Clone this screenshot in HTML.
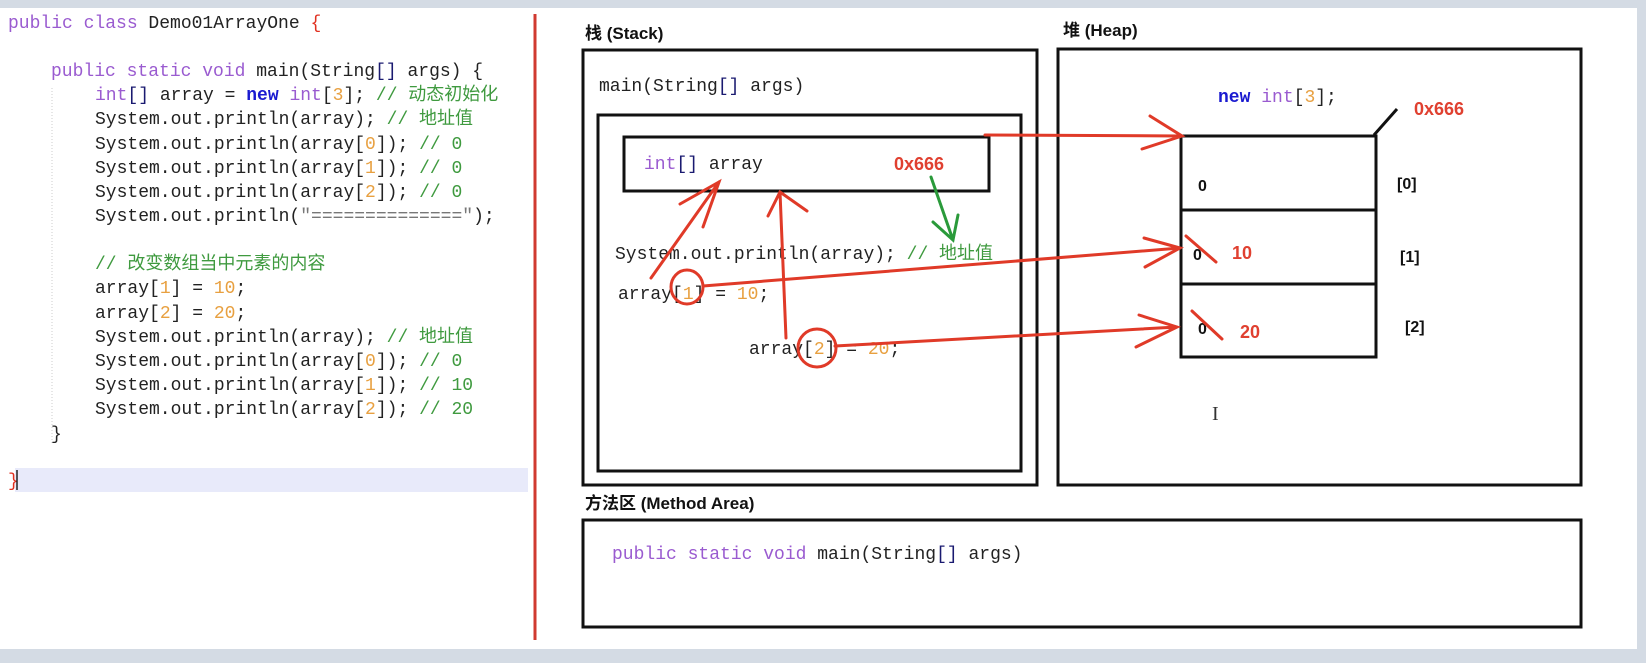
<!DOCTYPE html>
<html><head><meta charset="utf-8"><style>
html,body{margin:0;padding:0;background:#fff;}
svg{display:block}
.m{font-family:"Liberation Mono","Noto Sans CJK SC",monospace;font-size:18px;fill:#222}
.k{fill:#9a5bd0}.n{fill:#1a1ad0;font-weight:bold}.c{fill:#3f9a3f}.o{fill:#e8a040}.b{fill:#1a1a70}
.h{font-family:"Liberation Sans","Noto Sans CJK SC",sans-serif;font-weight:bold;font-size:17px;fill:#111}
.r{font-family:"Liberation Sans",sans-serif;font-weight:bold;font-size:18px;fill:#e04030}
</style></head><body>
<svg width="1646" height="663" viewBox="0 0 1646 663" xmlns="http://www.w3.org/2000/svg">
<rect x="0" y="0" width="1646" height="663" fill="#d4dbe4"/>
<rect x="0" y="8" width="1637" height="641" fill="#fff"/>
<rect x="15" y="468" width="513" height="24" fill="#e8eafa"/>
<line x1="52" y1="88" x2="52" y2="445" stroke="#ccc" stroke-dasharray="1,2"/>
<line x1="535" y1="14" x2="535" y2="640" stroke="#d03a30" stroke-width="3"/>
<g class="m">
<text x="8" y="28"><tspan class="k">public class</tspan> Demo01ArrayOne <tspan fill="#e03020">{</tspan></text>
<text x="51" y="76"><tspan class="k">public static void</tspan> main(String<tspan class="b">[]</tspan> args) {</text>
<text x="95" y="100"><tspan class="k">int</tspan><tspan class="b">[]</tspan> array = <tspan class="n">new</tspan> <tspan class="k">int</tspan>[<tspan class="o">3</tspan>]; <tspan class="c">// 动态初始化</tspan></text>
<text x="95" y="124">System.out.println(array); <tspan class="c">// 地址值</tspan></text>
<text x="95" y="149">System.out.println(array[<tspan class="o">0</tspan>]); <tspan class="c">// 0</tspan></text>
<text x="95" y="173">System.out.println(array[<tspan class="o">1</tspan>]); <tspan class="c">// 0</tspan></text>
<text x="95" y="197">System.out.println(array[<tspan class="o">2</tspan>]); <tspan class="c">// 0</tspan></text>
<text x="95" y="221">System.out.println(<tspan fill="#777">"=============="</tspan>);</text>
<text x="95" y="269" class="c">// 改变数组当中元素的内容</text>
<text x="95" y="293">array[<tspan class="o">1</tspan>] = <tspan class="o">10</tspan>;</text>
<text x="95" y="318">array[<tspan class="o">2</tspan>] = <tspan class="o">20</tspan>;</text>
<text x="95" y="342">System.out.println(array); <tspan class="c">// 地址值</tspan></text>
<text x="95" y="366">System.out.println(array[<tspan class="o">0</tspan>]); <tspan class="c">// 0</tspan></text>
<text x="95" y="390">System.out.println(array[<tspan class="o">1</tspan>]); <tspan class="c">// 10</tspan></text>
<text x="95" y="414">System.out.println(array[<tspan class="o">2</tspan>]); <tspan class="c">// 20</tspan></text>
<text x="51" y="439">}</text>
<text x="8" y="486" fill="#e03020">}</text>
</g>
<line x1="17" y1="470" x2="17" y2="490" stroke="#222" stroke-width="1.5"/>

<text class="h" x="585" y="39">栈 (Stack)</text>
<text class="h" x="1063" y="36">堆 (Heap)</text>
<text class="h" x="585" y="509">方法区 (Method Area)</text>

<g fill="none" stroke="#111" stroke-width="3">
<rect x="583" y="50" width="454" height="435"/>
<rect x="598" y="115" width="423" height="356"/>
<rect x="624" y="137" width="365" height="54"/>
<rect x="1058" y="49" width="523" height="436"/>
<rect x="583" y="520" width="998" height="107"/>
<rect x="1181" y="136" width="195" height="221"/>
<line x1="1181" y1="210" x2="1376" y2="210"/>
<line x1="1181" y1="284" x2="1376" y2="284"/>
<line x1="1374" y1="135" x2="1397" y2="109"/>
</g>

<g class="m">
<text x="599" y="91">main(String<tspan class="b">[]</tspan> args)</text>
<text x="644" y="169"><tspan class="k">int</tspan><tspan class="b">[]</tspan> array</text>
<text x="615" y="259">System.out.println(array); <tspan class="c">// 地址值</tspan></text>
<text x="618" y="299">array[<tspan class="o">1</tspan>] = <tspan class="o">10</tspan>;</text>
<text x="749" y="354">array[<tspan class="o">2</tspan>] = <tspan class="o">20</tspan>;</text>
<text x="1218" y="102"><tspan class="n">new</tspan> <tspan class="k">int</tspan>[<tspan class="o">3</tspan>];</text>
<text x="612" y="559"><tspan class="k">public static void</tspan> main(String<tspan class="b">[]</tspan> args)</text>
</g>

<text class="r" x="894" y="170">0x666</text>
<text class="r" x="1414" y="115">0x666</text>
<text class="r" x="1232" y="259">10</text>
<text class="r" x="1240" y="338">20</text>
<g font-family="Liberation Sans,sans-serif" font-weight="bold" font-size="16" fill="#111">
<text x="1198" y="191">0</text><text x="1193" y="260">0</text><text x="1198" y="334">0</text>
<text x="1397" y="189">[0]</text><text x="1400" y="262">[1]</text><text x="1405" y="332">[2]</text>
</g>
<text x="1212" y="420" font-family="Liberation Serif,serif" font-size="20" fill="#333">I</text>

<g fill="none" stroke="#2a9a3a" stroke-width="3" stroke-linecap="round">
<path d="M931 177 L953 240 M933 222 L953 240 L958 215"/>
</g>
<g fill="none" stroke="#e03a28" stroke-width="3" stroke-linecap="round">
<path d="M651 278 L719 182 M680 204 L719 182 L703 227"/>
<path d="M786 338 L780 192 M768 216 L780 192 L807 211"/>
<ellipse cx="687" cy="287" rx="16" ry="17"/>
<ellipse cx="817" cy="348" rx="19" ry="19"/>
<path d="M985 135 L1182 136 M1150 116 L1182 136 L1142 149"/>
<path d="M703 286 L1180 248 M1144 238 L1180 248 L1145 267"/>
<path d="M835 346 L1177 327 M1139 315 L1177 327 L1136 347"/>
<path d="M1186 236 L1216 262"/>
<path d="M1192 311 L1222 339"/>
</g>
</svg>
</body></html>
